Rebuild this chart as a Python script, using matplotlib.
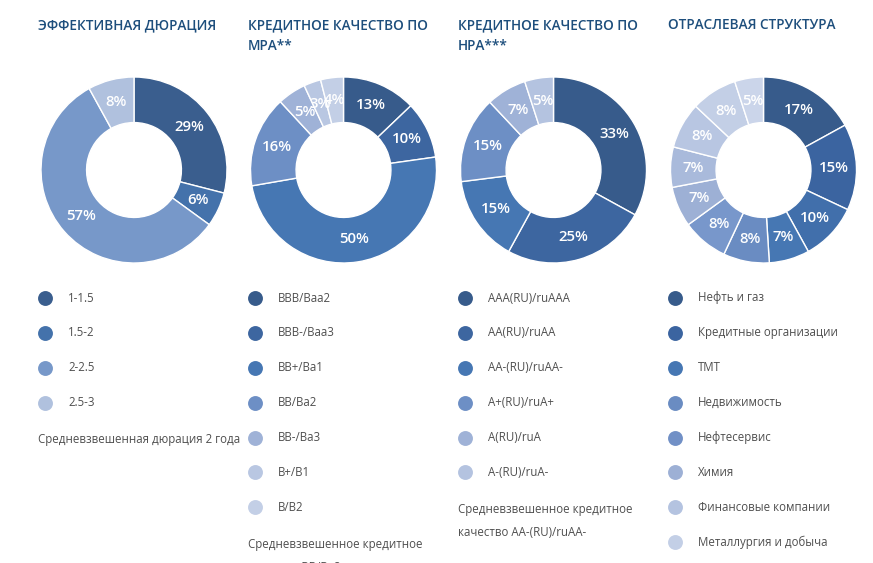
import math
import matplotlib
matplotlib.use("Agg")
import matplotlib.pyplot as plt

plt.rcParams['font.family'] = ['Open Sans', 'DejaVu Sans']

W, H = 873, 563

# ---- data ----
titles = ["ЭФФЕКТИВНАЯ ДЮРАЦИЯ", "КРЕДИТНОЕ КАЧЕСТВО ПО\nМРА**",
          "КРЕДИТНОЕ КАЧЕСТВО ПО\nНРА***", "ОТРАСЛЕВАЯ СТРУКТУРА"]

dur_labels = ["1-1.5", "1.5-2", "2-2.5", "2.5-3"]
dur_values = [29, 6, 57, 8]

mra_labels = ["BBB/Baa2", "BBB-/Baa3", "BB+/Ba1", "BB/Ba2", "BB-/Ba3", "B+/B1", "B/B2"]
mra_values = [13, 10, 50, 16, 5, 3, 4]

nra_labels = ["AAA(RU)/ruAAA", "AA(RU)/ruAA", "AA-(RU)/ruAA-", "A+(RU)/ruA+",
              "A(RU)/ruA", "A-(RU)/ruA-"]
nra_values = [33, 25, 15, 15, 7, 5]

ind_labels = ["Нефть и газ", "Кредитные организации", "ТМТ", "Недвижимость",
              "Нефтесервис", "Химия", "Финансовые компании", "Металлургия и добыча"]
ind_values = [17, 15, 10, 7, 8, 8, 7, 7, 8, 8, 5]

notes = ["Средневзвешенная дюрация 2 года",
         "Средневзвешенное кредитное\nкачество BB/Ba2",
         "Средневзвешенное кредитное\nкачество AA-(RU)/ruAA-",
         None]

# ---- styles ----
dur_colors = ["#3a5e8e", "#4472ab", "#7798c9", "#b0c1de"]
mra_colors = ["#375b8b", "#3d66a0", "#4677b3", "#6d8fc5", "#9fb2d7", "#b9c7e2", "#c3cfe6"]
nra_colors = ["#375b8b", "#3d66a0", "#4677b3", "#6d8fc5", "#9fb2d7", "#b4c3e0"]
ind_colors = ["#375b8b", "#3b64a0", "#416fab", "#4677b3", "#6a8cc2", "#7897cb",
              "#9db0d5", "#a9badb", "#b8c6e2", "#c3cfe6", "#cbd5ea"]
ind_leg_colors = ["#375b8b", "#3b64a0", "#4677b3", "#6a8cc2", "#7190c6",
                  "#9db0d5", "#b4c3e0", "#c3cfe6"]

fig = plt.figure(figsize=(W / 100, H / 100), dpi=100)
bg = fig.add_axes([0, 0, 1, 1])
bg.set_xlim(0, W)
bg.set_ylim(H, 0)
bg.axis('off')

title_color = "#1d4e7c"
text_color = "#4f4f4f"

charts = [
    (dur_values, dur_colors, dur_labels, dur_colors),
    (mra_values, mra_colors, mra_labels, mra_colors),
    (nra_values, nra_colors, nra_labels, nra_colors),
    (ind_values, ind_colors, ind_labels, ind_leg_colors),
]

col_x = [38, 248, 458, 668]
centers_x = [134, 343.5, 553.5, 763.5]
cy = 170
R = 93

for i, (vals, cols, labs, legcols) in enumerate(charts):
    x0 = col_x[i]
    bg.text(x0, 18, titles[i], fontsize=9.8, fontweight='semibold', color=title_color,
            va='top', ha='left', linespacing=1.6)

    cx = centers_x[i]
    ax = fig.add_axes([(cx - R) / W, 1 - (cy + R) / H, 2 * R / W, 2 * R / H])
    wedges, _ = ax.pie(vals, colors=cols, startangle=90, counterclock=False, radius=1,
                       wedgeprops=dict(width=0.49, edgecolor='white', linewidth=1.0))
    ax.set_xlim(-1, 1)
    ax.set_ylim(-1, 1)
    ax.set_aspect('equal')
    ax.axis('off')
    for w, v in zip(wedges, vals):
        ang = math.radians((w.theta1 + w.theta2) / 2)
        r = 0.755
        ax.text(r * math.cos(ang), r * math.sin(ang), f"{v}%", ha='center', va='center',
                color='white', fontsize=10.8, fontweight='semibold')

    # legend
    y = 298
    for lab, c in zip(labs, legcols):
        bg.scatter([x0 + 7], [y], s=115, color=c, marker='o', linewidths=0)
        bg.text(x0 + 30, y, lab, fontsize=8.3, color=text_color, va='center', ha='left')
        y += 34.9
    if notes[i]:
        bg.text(x0, y - 4.5, notes[i], fontsize=8.3, color=text_color, va='top', ha='left',
                linespacing=2.0)

fig.savefig("out.png", dpi=100, facecolor='white')
